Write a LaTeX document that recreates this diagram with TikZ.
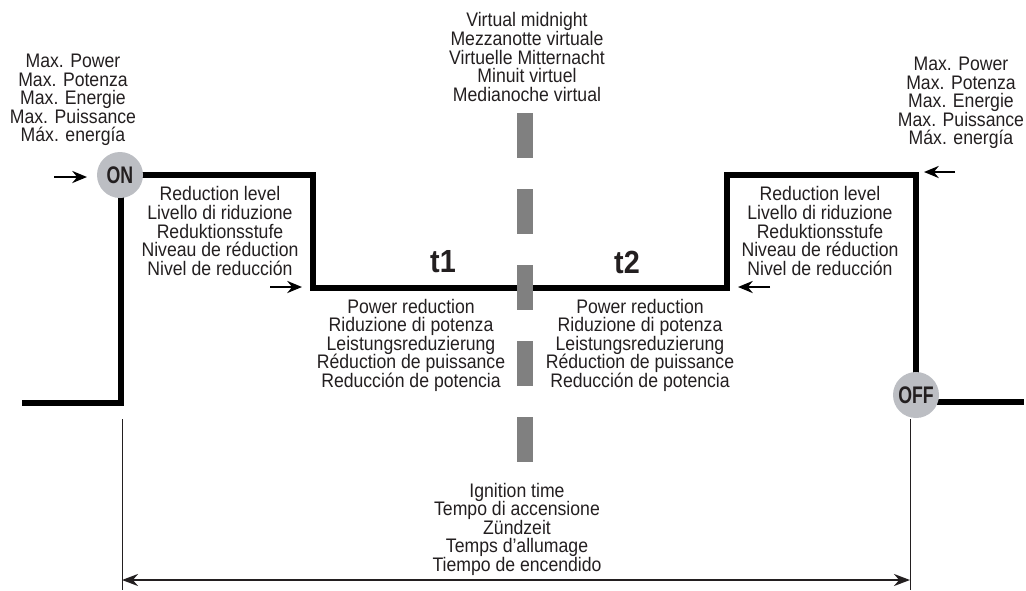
\documentclass[tikz,border=0pt]{standalone}
\usepackage{graphicx}
\usepackage{fontspec}
\setmainfont{Liberation Sans}[FakeStretch=0.9]
\usetikzlibrary{arrows.meta}

\definecolor{inkgray}{HTML}{231F20}
\definecolor{lampgray}{HTML}{BCBEC3}
\definecolor{midgray}{HTML}{808080}

\tikzset{
    txtblock/.style={align=center, text=inkgray, inner sep=0pt,
        font=\fontsize{14.7}{13.9}\selectfont},
    lamp/.style={circle, fill=lampgray, minimum size=34.5pt, inner sep=0pt,
        text=inkgray, font=\bfseries\fontsize{18}{18}\selectfont},
    signal/.style={line width=5pt, line join=miter},
    pointer/.style={line width=2pt, -{Stealth[length=11pt,width=9pt]}},
    tlabel/.style={text=inkgray, inner sep=0pt, font=\bfseries\fontsize{24}{25}\selectfont},
}

\begin{document}
\begin{tikzpicture}[x=0.75pt,y=-0.75pt]
    \useasboundingbox (0,0) rectangle (1026,590);

    % switching curve
    \coordinate (s0) at (22,403);
    \coordinate (s1) at (121,403);
    \coordinate (s2) at (121,175);
    \coordinate (s3) at (313,175);
    \coordinate (s4) at (727,288);
    \coordinate (s5) at (916,175);
    \coordinate (s6) at (916,395);
    \draw[signal] (s0) -- (s1) -- (s2) -- (s3) |- (s4) |- (s5) -- (s6);
    \draw[signal] (916,402) -- (1024,402);

    % virtual midnight
    \coordinate (m0) at (525,113);
    \coordinate (m1) at (525,463);
    \draw[midgray, line width=12pt, dash pattern=on 33.75pt off 23.25pt] (m0) -- (m1);

    \node[lamp] (on) at (120,175) {\scalebox{0.82}[1]{ON}};
    \node[lamp] (off) at (916,395) {\scalebox{0.82}[1]{OFF}};

    % pointers
    \coordinate (p1a) at (54,177);  \coordinate (p1b) at (87,177);
    \coordinate (p2a) at (270,287); \coordinate (p2b) at (302,287);
    \coordinate (p3a) at (955,172); \coordinate (p3b) at (924,172);
    \coordinate (p4a) at (770,287); \coordinate (p4b) at (738,287);
    \draw[pointer] (p1a) -- (p1b);
    \draw[pointer] (p2a) -- (p2b);
    \draw[pointer] (p3a) -- (p3b);
    \draw[pointer] (p4a) -- (p4b);

    % texts
    \node[txtblock] (maxl) at (73,100) {Max. Power\\Max. Potenza\\Max. Energie\\Max. Puissance\\Máx. energía};
    \node[txtblock] (maxr) at (961,103) {Max. Power\\Max. Potenza\\Max. Energie\\Max. Puissance\\Máx. energía};
    \node[txtblock] (midn) at (527,57) {Virtual midnight\\Mezzanotte virtuale\\Virtuelle Mitternacht\\Minuit virtuel\\Medianoche virtual};
    \node[txtblock] (redl) at (220,231) {Reduction level\\Livello di riduzione\\Reduktionsstufe\\Niveau de réduction\\Nivel de reducción};
    \node[txtblock] (redr) at (820,231) {Reduction level\\Livello di riduzione\\Reduktionsstufe\\Niveau de réduction\\Nivel de reducción};
    \node[txtblock] (powl) at (411,345) {Power reduction\\Riduzione di potenza\\Leistungsreduzierung\\Réduction de puissance\\Reducción de potencia};
    \node[txtblock] (powr) at (640,345) {Power reduction\\Riduzione di potenza\\Leistungsreduzierung\\Réduction de puissance\\Reducción de potencia};
    \node[txtblock] (ign) at (517,529) {Ignition time\\Tempo di accensione\\Zündzeit\\Temps d’allumage\\Tiempo de encendido};
    \node[tlabel] (t1) at (443,262) {t1};
    \node[tlabel] (t2) at (627,262) {t2};

    % ignition time span
    \coordinate (d0) at (122,419); \coordinate (d1) at (122,590);
    \coordinate (d2) at (910,419); \coordinate (d3) at (910,590);
    \draw[inkgray, line width=0.75pt] (d0) -- (d1);
    \draw[inkgray, line width=0.75pt] (d2) -- (d3);
    \coordinate (dl) at (122,580); \coordinate (dr) at (910,580);
    \draw[inkgray, line width=1.8pt, {Stealth[length=12pt,width=9pt]}-{Stealth[length=12pt,width=9pt]}] (dl) -- (dr);
\end{tikzpicture}
\end{document}
